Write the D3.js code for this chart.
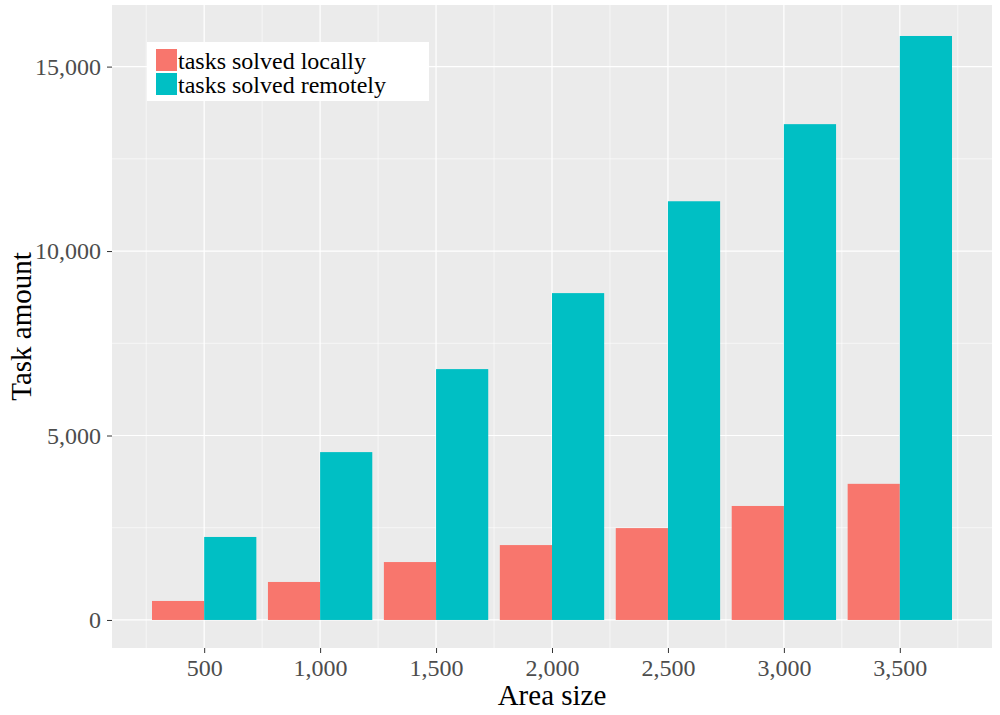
<!DOCTYPE html>
<html><head><meta charset="utf-8">
<script src="https://d3js.org/d3.v7.min.js"></script>
<style>body{margin:0;background:#fff}text{font-family:"Liberation Serif","Times New Roman",serif}</style>
</head><body>
<svg id="chart" width="1000" height="715"></svg>
<script>
// values
const areaSizes = [500, 1000, 1500, 2000, 2500, 3000, 3500];
const solvedLocally = [515, 1030, 1570, 2030, 2490, 3090, 3690];
const solvedRemotely = [2250, 4550, 6800, 8860, 11350, 13440, 15830];
const yTicks = [0, 5000, 10000, 15000];
const seriesNames = ["tasks solved locally", "tasks solved remotely"];
const seriesColors = ["#F8766D", "#00BFC4"];

const svg = d3.select("#chart");
const pLeft = 112, pRight = 992, pTop = 5, pBottom = 648;

const x = d3.scaleLinear().domain([102.5, 3897.5]).range([pLeft, pRight]);
const y = d3.scaleLinear().domain([-760, 16670]).range([pBottom, pTop]);
const barW = x(225) - x(0);

svg.append("rect").attr("x", pLeft).attr("y", pTop).attr("width", pRight - pLeft)
    .attr("height", pBottom - pTop).attr("fill", "#EBEBEB");

// minor grid
const g = svg.append("g");
d3.range(250, 3800, 500).forEach(v => g.append("line").attr("x1", x(v)).attr("x2", x(v))
    .attr("y1", pTop).attr("y2", pBottom).attr("stroke", "#fff").attr("stroke-width", 0.6));
[2500, 7500, 12500].forEach(v => g.append("line").attr("x1", pLeft).attr("x2", pRight)
    .attr("y1", y(v)).attr("y2", y(v)).attr("stroke", "#fff").attr("stroke-width", 0.6));
// major grid
areaSizes.forEach(v => g.append("line").attr("x1", x(v)).attr("x2", x(v))
    .attr("y1", pTop).attr("y2", pBottom).attr("stroke", "#fff").attr("stroke-width", 1.2));
yTicks.forEach(v => g.append("line").attr("x1", pLeft).attr("x2", pRight)
    .attr("y1", y(v)).attr("y2", y(v)).attr("stroke", "#fff").attr("stroke-width", 1.2));

// bars
[solvedLocally, solvedRemotely].forEach((vals, i) => {
    svg.append("g").selectAll("rect").data(vals).join("rect")
        .attr("x", (d, j) => x(areaSizes[j]) - barW + i * barW)
        .attr("width", barW)
        .attr("y", d => y(d))
        .attr("height", d => y(0) - y(d))
        .attr("fill", seriesColors[i]);
});

// axes
const xAxis = svg.append("g").attr("transform", `translate(0,${pBottom})`)
    .call(d3.axisBottom(x).tickValues(areaSizes).tickSize(5).tickPadding(6));
const yAxis = svg.append("g").attr("transform", `translate(${pLeft},0)`)
    .call(d3.axisLeft(y).tickValues(yTicks).tickSize(5).tickPadding(6));
[xAxis, yAxis].forEach(a => {
    a.select(".domain").remove();
    a.selectAll(".tick line").attr("stroke", "#333");
    a.selectAll("text").attr("fill", "#4D4D4D").style("font-size", "24px")
        .style("font-family", "Liberation Serif, serif");
});

svg.append("text").attr("x", (pLeft + pRight) / 2).attr("y", 705).attr("text-anchor", "middle")
    .style("font-size", "29px").text("Area size");
svg.append("text").attr("transform", `translate(31,${(pTop + pBottom) / 2}) rotate(-90)`)
    .attr("text-anchor", "middle").style("font-size", "29px").text("Task amount");

// legend
const lg = svg.append("g");
lg.append("rect").attr("x", 147).attr("y", 42).attr("width", 282).attr("height", 59).attr("fill", "#fff");
seriesNames.forEach((n, i) => {
    lg.append("rect").attr("x", 156).attr("y", 49 + i * 24).attr("width", 21).attr("height", 22)
        .attr("fill", seriesColors[i]);
    lg.append("text").attr("x", 178).attr("y", 69 + i * 24).style("font-size", "24px").text(n);
});
</script>
</body></html>
